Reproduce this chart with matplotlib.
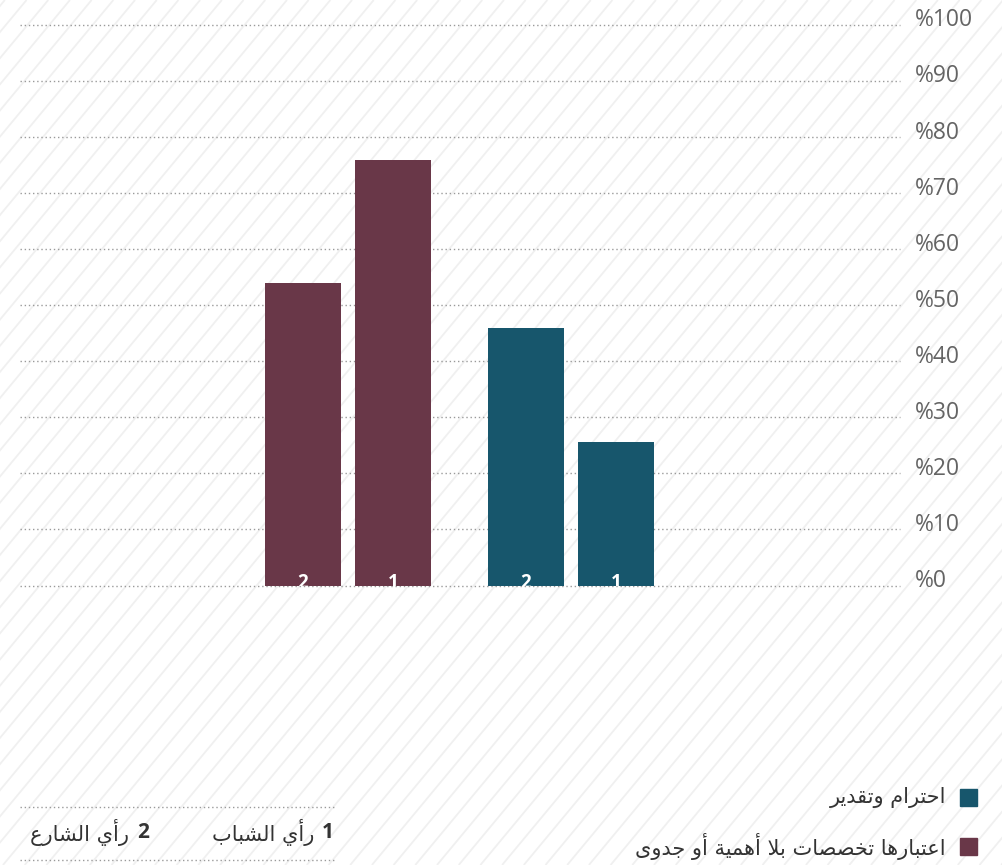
import matplotlib
matplotlib.use('Agg')
import matplotlib.pyplot as plt
import numpy as np

# data
groups = ['اعتبارها تخصصات بلا أهمية أو جدوى', 'احترام وتقدير']
colors = ['#693748', '#17566c']
street = [54, 46]      # 2 : رأي الشارع
youth = [76, 25.6]     # 1 : رأي الشباب
bar_tags = ['2', '1']
source_labels = ['رأي الشباب', 'رأي الشارع']
yticks = [0, 10, 20, 30, 40, 50, 60, 70, 80, 90, 100]
ytick_labels = ['%' + str(v) for v in yticks]

W, H = 1002, 865

# --- minimal arabic shaping (matplotlib has no bidi/shaping) ---
FORMS = {
    'ا': (0xFE8D, 0xFE8E), 'أ': (0xFE83, 0xFE84), 'ب': (0xFE8F, 0xFE90, 0xFE91, 0xFE92),
    'ة': (0xFE93, 0xFE94), 'ت': (0xFE95, 0xFE96, 0xFE97, 0xFE98),
    'ج': (0xFE9D, 0xFE9E, 0xFE9F, 0xFEA0), 'ح': (0xFEA1, 0xFEA2, 0xFEA3, 0xFEA4),
    'خ': (0xFEA5, 0xFEA6, 0xFEA7, 0xFEA8), 'د': (0xFEA9, 0xFEAA), 'ر': (0xFEAD, 0xFEAE),
    'ش': (0xFEB5, 0xFEB6, 0xFEB7, 0xFEB8), 'ص': (0xFEB9, 0xFEBA, 0xFEBB, 0xFEBC),
    'ع': (0xFEC9, 0xFECA, 0xFECB, 0xFECC), 'ق': (0xFED5, 0xFED6, 0xFED7, 0xFED8),
    'ل': (0xFEDD, 0xFEDE, 0xFEDF, 0xFEE0), 'م': (0xFEE1, 0xFEE2, 0xFEE3, 0xFEE4),
    'ه': (0xFEE9, 0xFEEA, 0xFEEB, 0xFEEC), 'و': (0xFEED, 0xFEEE), 'ى': (0xFEEF, 0xFEF0),
    'ي': (0xFEF1, 0xFEF2, 0xFEF3, 0xFEF4),
}
LAMALEF = {'ا': (0xFEFB, 0xFEFC), 'أ': (0xFEF7, 0xFEF8)}


def dual(c):
    return c in FORMS and len(FORMS[c]) == 4


def shape(s):
    out = []
    i = 0
    while i < len(s):
        c = s[i]
        if c not in FORMS:
            out.append(c)
            i += 1
            continue
        prev = i > 0 and dual(s[i - 1])
        if c == 'ل' and i + 1 < len(s) and s[i + 1] in LAMALEF:
            out.append(chr(LAMALEF[s[i + 1]][1 if prev else 0]))
            i += 2
            continue
        nxt = dual(c) and i + 1 < len(s) and s[i + 1] in FORMS
        f = FORMS[c]
        if prev and nxt:
            g = f[3]
        elif prev:
            g = f[1]
        elif nxt:
            g = f[2]
        else:
            g = f[0]
        out.append(chr(g))
        i += 1
    return ''.join(reversed(out))


def px(x, y):
    return x / W, 1 - y / H


fig = plt.figure(figsize=(W / 100, H / 100), dpi=100)

# striped background
bg = fig.add_axes([0, 0, 1, 1], zorder=-1)
bg.set_xlim(0, W)
bg.set_ylim(H, 0)
bg.axis('off')
for x0 in np.arange(-H, W + 22, 21.7):
    bg.plot([x0, x0 + H * 0.83], [H, 0], color='#f0f0f0', lw=1.3, solid_capstyle='butt')

# main chart
ax = fig.add_axes([20 / W, 1 - 585.5 / H, 880 / W, 560.5 / H])
ax.patch.set_alpha(0)
ax.set_xlim(-1.471, 2.475)
ax.set_ylim(0, 100)
for s in ax.spines.values():
    s.set_visible(False)
ax.set_xticks([])
ax.set_yticks([])

for v, lab in zip(yticks, ytick_labels):
    ax.axhline(v, color='#9a9a9a', lw=1, ls=(0, (1, 2)), zorder=1, clip_on=False)
    ax.text(1.017, v - 0.25, lab, transform=ax.get_yaxis_transform(), ha='left',
            va='baseline', fontsize=16.5, color='#646464', family='Open Sans',
            fontweight='medium')

x = np.arange(len(groups))
off, bw = 0.2018, 0.341
ax.bar(x - off, street, bw, color=colors, zorder=2)
ax.bar(x + off, youth, bw, color=colors, zorder=2)
for xi in x:
    for dx, tag in zip([-off, off], bar_tags):
        ax.text(xi + dx, -0.5, tag, ha='center', va='baseline', color='white',
                fontsize=13.5, fontweight='bold', family='Open Sans', zorder=3, clip_on=True)

# legend (bottom right)
for name, col, yc in zip(groups, colors, [837 + 9, 788 + 9]):
    fig.patches.append(plt.Rectangle(px(960, yc + 9), 17 / W, 17 / H, color=col,
                                     transform=fig.transFigure, figure=fig))
    fig.text(*px(946, yc), shape(name), ha='right', va='center', fontsize=15,
             color='#333333', family='DejaVu Sans')

# source key (bottom left)
for yl in [807, 860]:
    bg.plot([20, 335], [yl, yl], color='#9a9a9a', lw=1, ls=(0, (1, 2)))
for num, lab, xr in zip(['1', '2'], source_labels, [334, 149]):
    fig.text(*px(xr, 833), num, ha='right', va='center', fontsize=15,
             fontweight='bold', color='#333333', family='Open Sans')
    fig.text(*px(xr - 20, 833), shape(lab), ha='right', va='center', fontsize=15,
             color='#333333', family='DejaVu Sans')

fig.savefig('out.png', dpi=100)
